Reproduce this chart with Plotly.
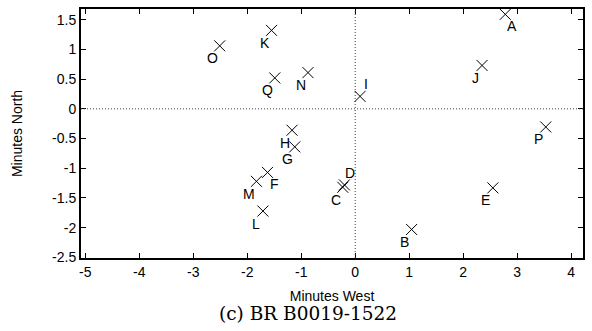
import plotly.graph_objects as go

# Offsets of each source from the pointing centre (arc-minutes)
labels = ["A", "B", "C", "D", "E", "F", "G", "H", "I",
          "J", "K", "L", "M", "N", "O", "P", "Q"]
minutes_west = [2.78, 1.045, -0.23, -0.20, 2.55, -1.625, -1.12, -1.17, 0.09,
                2.35, -1.55, -1.71, -1.83, -0.875, -2.51, 3.53, -1.49]
minutes_north = [1.59, -2.03, -1.32, -1.28, -1.33, -1.07, -0.64, -0.36, 0.21,
                 0.73, 1.32, -1.72, -1.22, 0.61, 1.06, -0.305, 0.52]
# where each letter sits relative to its cross
label_side = ["br", "bl", "bl", "ar", "bl", "br", "bl", "bl", "ar",
              "bl", "bl", "bl", "bl", "bl", "bl", "bl", "bl"]

x_ticks = [-5, -4, -3, -2, -1, 0, 1, 2, 3, 4]
y_ticks = [-2.5, -2, -1.5, -1, -0.5, 0, 0.5, 1, 1.5]

SANS = "Liberation Sans, Arial, Helvetica, sans-serif"
SIDE_SHIFT = {"bl": (-7, -12.5), "br": (7, -12), "ar": (6, 12)}

fig = go.Figure()
fig.add_trace(go.Scatter(
    x=minutes_west, y=minutes_north, mode="markers",
    marker=dict(symbol="x-thin-open", size=11, color="black",
                line=dict(color="black", width=1)),
    showlegend=False, hoverinfo="skip",
))

for name, xv, yv, side in zip(labels, minutes_west, minutes_north, label_side):
    dx, dy = SIDE_SHIFT[side]
    fig.add_annotation(x=xv, y=yv, text=name, showarrow=False,
                       xshift=dx, yshift=dy,
                       font=dict(family=SANS, size=14, color="black"))

# dotted reference lines through the origin
dotted = dict(color="#444444", width=1, dash="1px,2px")
fig.add_shape(type="line", xref="x", yref="paper", x0=0, x1=0, y0=0, y1=1,
              line=dotted)
fig.add_shape(type="line", xref="paper", yref="y", x0=0, x1=1, y0=0, y1=0,
              line=dotted)

axis_common = dict(
    showgrid=False, zeroline=False, showline=True, linecolor="black",
    linewidth=2, mirror="allticks", ticks="inside", ticklen=5,
    tickwidth=1, tickcolor="black",
    tickfont=dict(family=SANS, size=14, color="black"),
)

fig.update_xaxes(range=[-5.08, 4.22], tickvals=x_ticks,
                 ticktext=[str(v) for v in x_ticks],
                 title=dict(text="Minutes West", standoff=12,
                            font=dict(family=SANS, size=14, color="black")),
                 **axis_common)
fig.update_yaxes(range=[-2.51, 1.68], tickvals=y_ticks,
                 ticktext=[f"{v:g}" for v in y_ticks],
                 title=dict(text="Minutes North", standoff=26,
                            font=dict(family=SANS, size=14, color="black")),
                 **axis_common)

fig.add_annotation(xref="paper", yref="paper", x=0.453, y=-0.224,
                   xanchor="center", yanchor="middle", showarrow=False,
                   text="(c) BR B0019-1522",
                   font=dict(family="DejaVu Serif, serif", size=18.5, color="black"))

fig.update_layout(
    width=592, height=331,
    margin=dict(l=81, r=8, t=7, b=73),
    paper_bgcolor="white", plot_bgcolor="white",
)

fig.write_html("out.html")
